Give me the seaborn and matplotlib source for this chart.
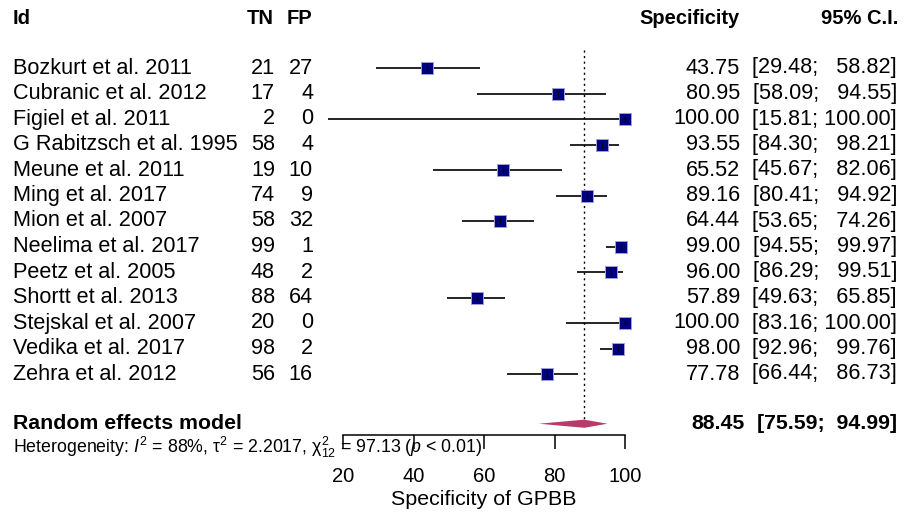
import numpy as np
import pandas as pd
import matplotlib
matplotlib.use("Agg")
import matplotlib.pyplot as plt
import matplotlib.transforms as mtransforms
import seaborn as sns

# data
studies = ["Bozkurt et al. 2011", "Cubranic et al. 2012", "Figiel et al. 2011",
           "G Rabitzsch et al. 1995", "Meune et al. 2011", "Ming et al. 2017",
           "Mion et al. 2007", "Neelima et al. 2017", "Peetz et al. 2005",
           "Shortt et al. 2013", "Stejskal et al. 2007", "Vedika et al. 2017",
           "Zehra et al. 2012"]
tn = [21, 17, 2, 58, 19, 74, 58, 99, 48, 88, 20, 98, 56]
fp = [27, 4, 0, 4, 10, 9, 32, 1, 2, 64, 0, 2, 16]
spec = [43.75, 80.95, 100.00, 93.55, 65.52, 89.16, 64.44, 99.00, 96.00, 57.89, 100.00, 98.00, 77.78]
ci_low = [29.48, 58.09, 15.81, 84.30, 45.67, 80.41, 53.65, 94.55, 86.29, 49.63, 83.16, 92.96, 66.44]
ci_high = [58.82, 94.55, 100.00, 98.21, 82.06, 94.92, 74.26, 99.97, 99.51, 65.85, 100.00, 99.76, 86.73]

pooled = 88.45
pooled_low = 75.59
pooled_high = 94.99
x_ticks = [20, 40, 60, 80, 100]

df = pd.DataFrame({"study": studies, "tn": tn, "fp": fp, "spec": spec,
                   "low": ci_low, "high": ci_high})
df["row"] = np.arange(len(df))
pooled_row = 13.95

sns.set_theme(style="white")
plt.rcParams["font.family"] = ["Liberation Sans", "DejaVu Sans"]
plt.rcParams["text.color"] = "black"
plt.rcParams["xtick.color"] = "black"
plt.rcParams["axes.labelcolor"] = "black"
plt.rcParams["mathtext.fontset"] = "custom"
plt.rcParams["mathtext.rm"] = "Liberation Sans"
plt.rcParams["mathtext.it"] = "Liberation Sans:italic"

W, H = 914, 515
fig = plt.figure(figsize=(W / 100, H / 100), dpi=100)
ax = fig.add_axes([343 / W, 1 - 435 / H, (625 - 343) / W, (435 - 40) / H])
ax.set_xlim(20, 100)
ax.set_ylim((435 - 68) / 25.5, (40 - 68) / 25.5)

# confidence intervals and study squares
ax.hlines(df["row"], df["low"], df["high"], color="black", lw=1.2, clip_on=False)
sns.scatterplot(data=df, x="spec", y="row", marker="s", s=85, color="#000080",
                edgecolor="#a0a0d8", linewidth=0.7, ax=ax, zorder=3, clip_on=False, legend=False)
ax.scatter(df["spec"], df["row"], marker="|", s=25, color="black", lw=0.9, zorder=4, clip_on=False)

# pooled estimate diamond
h = 0.16
ax.fill([pooled_low, pooled, pooled_high, pooled],
        [pooled_row, pooled_row - h, pooled_row, pooled_row + h],
        color="#B73A68", lw=0, zorder=3)
ax.vlines(pooled, -0.7, pooled_row - h, color="black", lw=1.0, linestyles=(0, (1.5, 2.5)))

# x axis: only the bottom spine with ticks pointing down
for side in ["top", "left", "right"]:
    ax.spines[side].set_visible(False)
ax.spines["bottom"].set_bounds(20, 100)
ax.spines["bottom"].set_color("black")
ax.spines["bottom"].set_linewidth(1.1)
ax.set_xticks(x_ticks)
ax.set_yticks([])
ax.tick_params(axis="x", direction="out", length=10, width=1.1, color="black",
               labelsize=14.5, pad=13, bottom=True)
ax.set_xlabel("Specificity of GPBB", fontsize=15.4, labelpad=3)
ax.set_ylabel("")
ax.patch.set_alpha(0)

# text columns
tr = mtransforms.blended_transform_factory(fig.transFigure, ax.transData)
fs = 15.6
hdr_y = (18 - 68) / 25.5
hdr = dict(fontsize=14.5, fontweight="bold", transform=tr, va="center")
ax.text(13 / W, hdr_y, "Id", ha="left", **hdr)
ax.text(274 / W, hdr_y, "TN", ha="right", **hdr)
ax.text(312 / W, hdr_y, "FP", ha="right", **hdr)
ax.text(740 / W, hdr_y, "Specificity", ha="right", **hdr)
ax.text(898 / W, hdr_y, "95% C.I.", ha="right", **hdr)

for _, r in df.iterrows():
    y = r["row"]
    ax.text(13 / W, y, r["study"], ha="left", va="center", fontsize=fs, transform=tr)
    ax.text(275 / W, y, str(r["tn"]), ha="right", va="center", fontsize=fs, transform=tr)
    ax.text(313 / W, y, str(r["fp"]), ha="right", va="center", fontsize=fs, transform=tr)
    ax.text(740 / W, y, f"{r['spec']:.2f}", ha="right", va="center", fontsize=fs, transform=tr)
    lo = f"{r['low']:.2f}"
    hi = f"{r['high']:.2f}"
    hi = " " * (2 * (6 - len(hi))) + hi
    ax.text(897 / W, y, f"[{lo}; {hi}]", ha="right", va="center", fontsize=fs, transform=tr)

ax.text(13 / W, pooled_row, "Random effects model", ha="left", va="center",
        fontsize=15.3, fontweight="bold", transform=tr)
ax.text(745 / W, pooled_row, f"{pooled:.2f}", ha="right", va="center",
        fontsize=15.3, fontweight="bold", transform=tr)
ax.text(897 / W, pooled_row, f"[{pooled_low:.2f};  {pooled_high:.2f}]", ha="right", va="center",
        fontsize=15.3, fontweight="bold", transform=tr)

fig.text(13 / W, 1 - 447 / H,
         r"Heterogeneity: $I^2$ = 88%, $\mathrm{\tau}^2$ = 2.2017, $\mathrm{\chi}^2_{12}$ = 97.13 ($p$ < 0.01)",
         ha="left", va="center", fontsize=12.8)

fig.savefig("out.png", dpi=100)
